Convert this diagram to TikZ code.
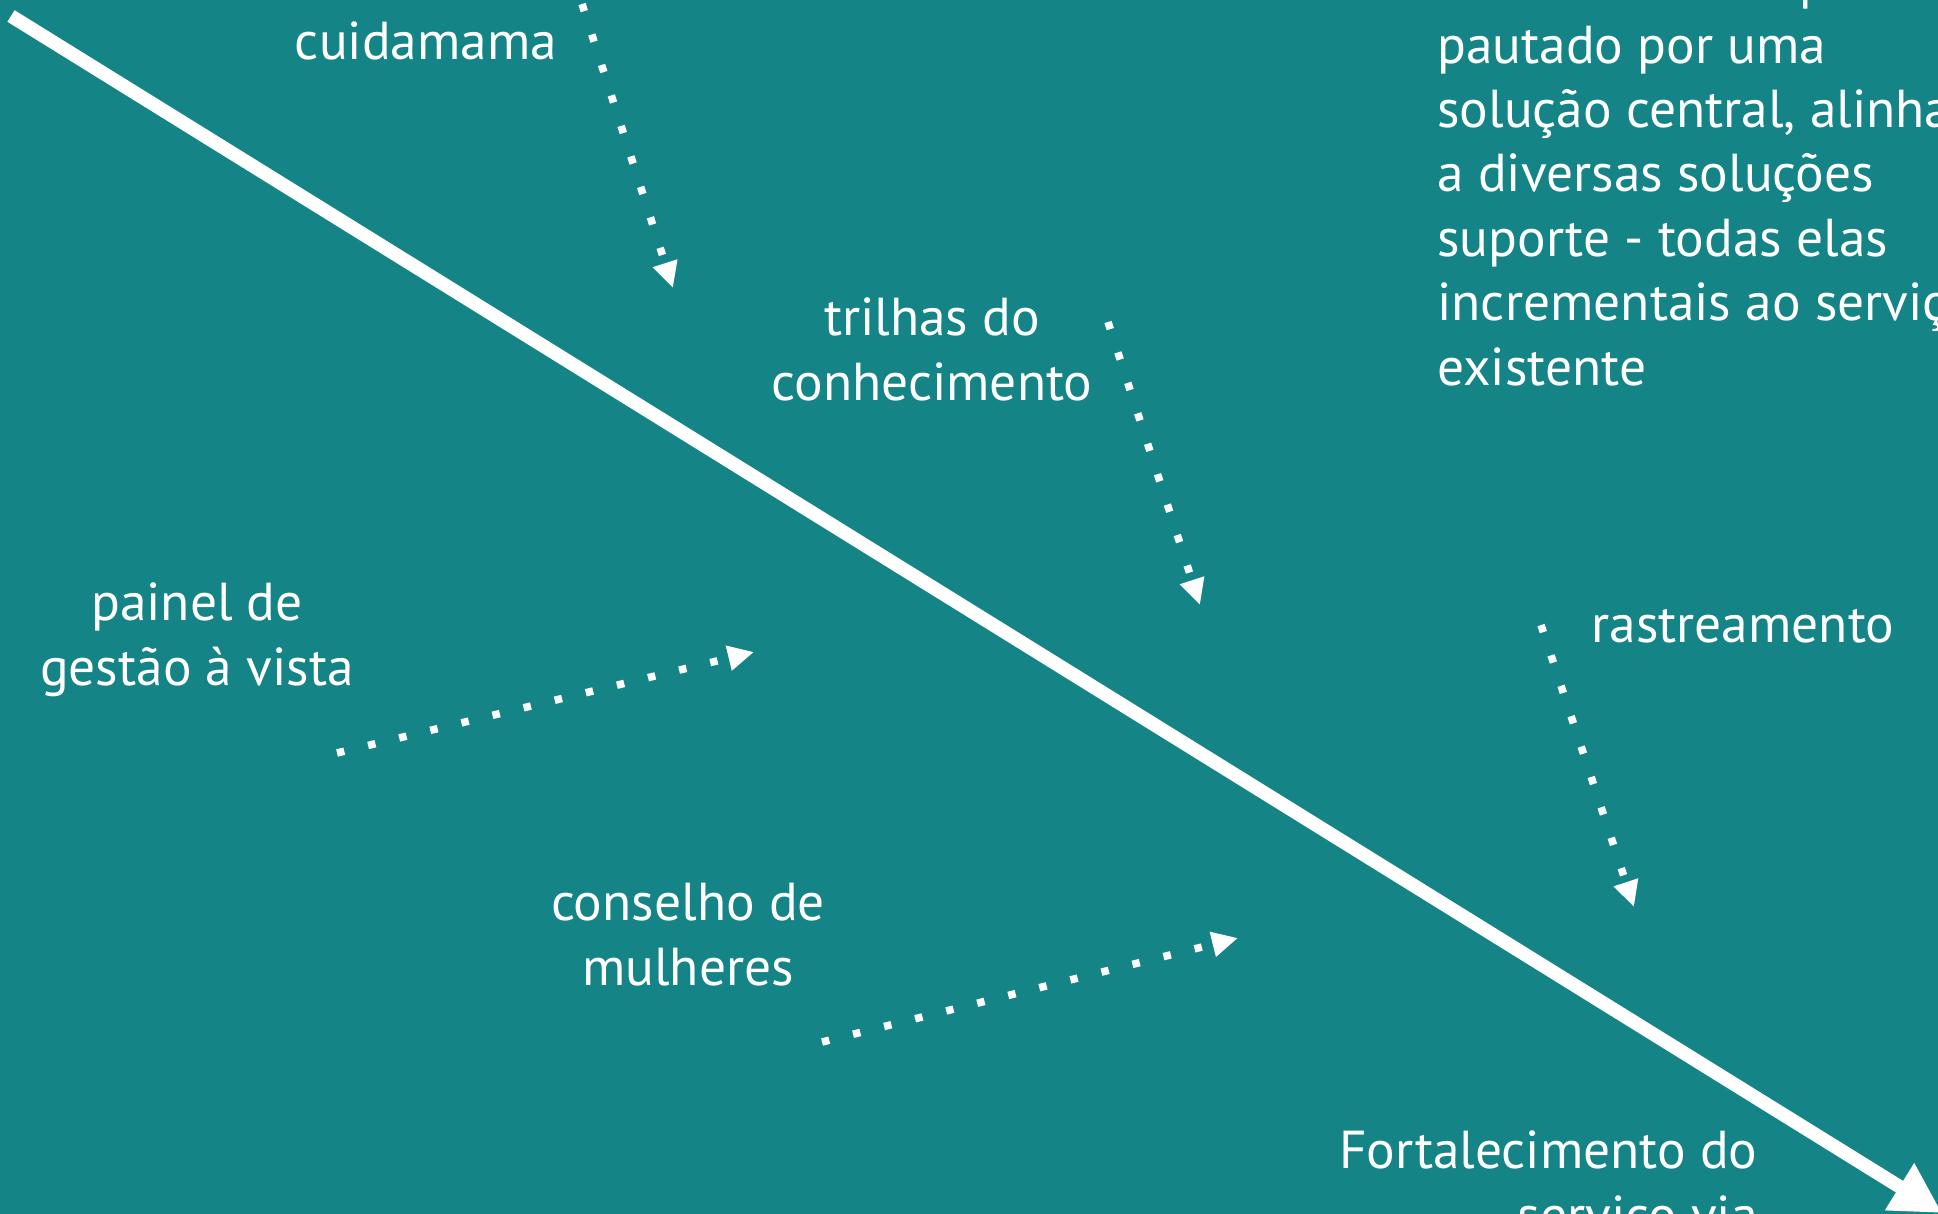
\documentclass[tikz,border=0pt]{standalone}
\usepackage{fontspec}
\setmainfont{PT Sans}
\usepackage{tikz}
\usetikzlibrary{arrows.meta}
\definecolor{fishteal}{RGB}{21,132,135}
\tikzstyle{cause}=[text=white,font=\fontsize{26.7pt}{32.2pt}\selectfont,align=center,inner sep=0pt,anchor=base]
\tikzstyle{spine}=[draw=white,line width=6.8pt,-{Triangle[length=25pt,width=26pt]}]
\tikzstyle{feed}=[draw=white,line width=3.75pt,dash pattern=on 3.75pt off 12.25pt,-{Triangle[length=13pt,width=12pt]}]

\begin{document}
\begin{tikzpicture}[x=0.5pt,y=-0.5pt]
        \fill[fishteal] (0,0) rectangle (1938,1214);
        \useasboundingbox (0,0) rectangle (1938,1214);
        \clip (0,0) rectangle (1938,1214);
        % spine of the diagram
        \coordinate (tail) at (11,16);
        \coordinate (head) at (1942,1213);
        \draw[spine] (tail) to (head);
        % texts (base = last line)
        \node[cause] (cuida) at (426,60) {cuidamama};
        \node[cause] (trilhas) at (932,400) {trilhas do\\conhecimento};
        \node[cause] (painel) at (197,685) {painel de\\gestão à vista};
        \node[cause] (conselho) at (688,985) {conselho de\\mulheres};
        \node[cause,anchor=base west] (rastreio) at (1591,642) {rastreamento};
        \node[cause,align=left,anchor=base west] (produto) at (1437,385) {crescimento do produto é\\pautado por uma\\solução central, alinhada\\a diversas soluções\\suporte - todas elas\\incrementais ao serviço\\existente};
        \node[cause,align=right,anchor=base east] (efeito) at (1758,1233) {Fortalecimento do\\serviço via};
        % dotted feeders
        \coordinate (c1) at (582,4);   \coordinate (s1) at (673,288);
        \coordinate (c2) at (1108,322); \coordinate (s2) at (1200,605);
        \coordinate (c3) at (337,753);  \coordinate (s3) at (754,652);
        \coordinate (c4) at (822,1042); \coordinate (s4) at (1238,938);
        \coordinate (c5) at (1541,625); \coordinate (s5) at (1634,907);
        \draw[feed] (c1) to (s1);
        \draw[feed] (c2) to (s2);
        \draw[feed] (c3) to (s3);
        \draw[feed] (c4) to (s4);
        \draw[feed] (c5) to (s5);
      \end{tikzpicture}
\end{document}
